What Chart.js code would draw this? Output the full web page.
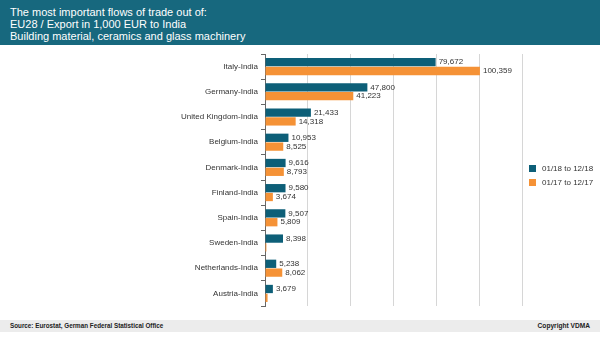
<!DOCTYPE html>
<html>
<head>
<meta charset="utf-8">
<script src="https://cdn.jsdelivr.net/npm/chart.js@4/dist/chart.umd.min.js"></script>
<style>
  html, body { margin: 0; padding: 0; background: #fff; }
  #page { position: relative; width: 600px; height: 338px; overflow: hidden; font-family: 'Liberation Sans', Arial, sans-serif; }
  #head { position: absolute; left: 0; top: 0; width: 600px; height: 45px; background: #17687e; color: #fff; }
  #head div { position: absolute; left: 10px; font-size: 11px; line-height: 12px; }
  #chart-wrap { position: absolute; left: 0; top: 45px; width: 600px; height: 270px; }
  #legend { position: absolute; left: 529px; top: 164px; font-size: 8px; color: #333; }
  #legend .item { height: 14px; line-height: 10px; white-space: nowrap; }
  #legend .sw { display: inline-block; width: 7px; height: 7px; vertical-align: -1px; margin-right: 6px; }
  #foot { position: absolute; left: 0; top: 320px; width: 600px; height: 12px; background: #ececec; font-size: 6.3px; font-weight: bold; color: #222; line-height: 12px; }
  #foot .l { position: absolute; left: 10px; }
  #foot .r { position: absolute; right: 10px; font-size: 6.6px; }
</style>
</head>
<body>
<div id="page">
  <div id="head"></div>
  <div id="chart-wrap"><canvas id="chart-flows" width="600" height="270"></canvas></div>
  <div id="legend"></div>
  <div id="foot"><span class="l">Source: Eurostat, German Federal Statistical Office</span><span class="r">Copyright VDMA</span></div>
</div>
<script>
const titleLines = [
  'The most important flows of trade out of:',
  'EU28 / Export in 1,000 EUR to India',
  'Building material, ceramics and glass machinery',
];

const countries = [
  'Italy-India', 'Germany-India', 'United Kingdom-India', 'Belgium-India', 'Denmark-India',
  'Finland-India', 'Spain-India', 'Sweden-India', 'Netherlands-India', 'Austria-India',
];
const seriesNames = ['01/18 to 12/18', '01/17 to 12/17'];
const exports2018 = [79672, 47800, 21433, 10953, 9616, 9580, 9507, 8398, 5238, 3679];
const exports2017 = [100359, 41223, 14318, 8525, 8793, 3674, 5809, 650, 8062, 1200];
// values too small to carry a label
const hiddenLabels2017 = [false, false, false, false, false, false, false, true, false, true];
const xTicks = [0, 20000, 40000, 60000, 80000, 100000, 120000];

const COLORS = {
  blue: '#0d5f78',
  orange: '#f59236',
  axis: '#666',
  grid: '#d6d6d6',
  text: '#333',
};
const FONT = "'Liberation Sans', Arial, sans-serif";

document.getElementById('head').innerHTML = titleLines
  .map((t, i) => `<div style="top:${6 + i * 12}px">${t}</div>`).join('');

const seriesColors = [COLORS.blue, COLORS.orange];
document.getElementById('legend').innerHTML = seriesNames.map((n, i) => `
  <div class="item"><span class="sw" style="background:${seriesColors[i]}"></span>${n}</div>
`).join('');

// writes the value right after the end of each bar
const valueLabels = {
  id: 'valueLabels',
  afterDatasetsDraw(chart) {
    const ctx = chart.ctx;
    ctx.save();
    ctx.font = `8px ${FONT}`;
    ctx.fillStyle = COLORS.text;
    ctx.textBaseline = 'middle';
    ctx.textAlign = 'left';
    chart.data.datasets.forEach((ds, di) => {
      chart.getDatasetMeta(di).data.forEach((bar, i) => {
        if (di === 1 && hiddenLabels2017[i]) return;
        ctx.fillText(ds.data[i].toLocaleString('en-US'), bar.x + 3, bar.y);
      });
    });
    ctx.restore();
  },
};

new Chart(document.getElementById('chart-flows').getContext('2d'), {
  type: 'bar',
  data: {
    labels: countries,
    datasets: [
      { label: seriesNames[0], data: exports2018, backgroundColor: COLORS.blue },
      { label: seriesNames[1], data: exports2017, backgroundColor: COLORS.orange },
    ],
  },
  options: {
    indexAxis: 'y',
    responsive: false,
    animation: false,
    layout: { padding: { top: 9, bottom: 9, left: 0, right: 78 } },
    datasets: { bar: { categoryPercentage: 0.7, barPercentage: 0.94 } },
    plugins: {
      legend: { display: false },
      tooltip: { enabled: false },
    },
    scales: {
      x: {
        min: 0,
        max: 120000,
        afterBuildTicks: s => { s.ticks = xTicks.map(v => ({ value: v })); },
        afterFit: s => { s.height = 0; },
        ticks: { display: false },
        border: { display: false },
        grid: { color: COLORS.grid, lineWidth: 1, drawTicks: false },
      },
      y: {
        afterFit: s => { s.width = 265; },
        ticks: { color: COLORS.text, font: { family: FONT, size: 8 }, padding: 3 },
        border: { color: COLORS.axis, width: 1 },
        grid: { drawOnChartArea: false, tickLength: 4, color: COLORS.axis },
      },
    },
  },
  plugins: [valueLabels],
});
</script>
</body>
</html>
